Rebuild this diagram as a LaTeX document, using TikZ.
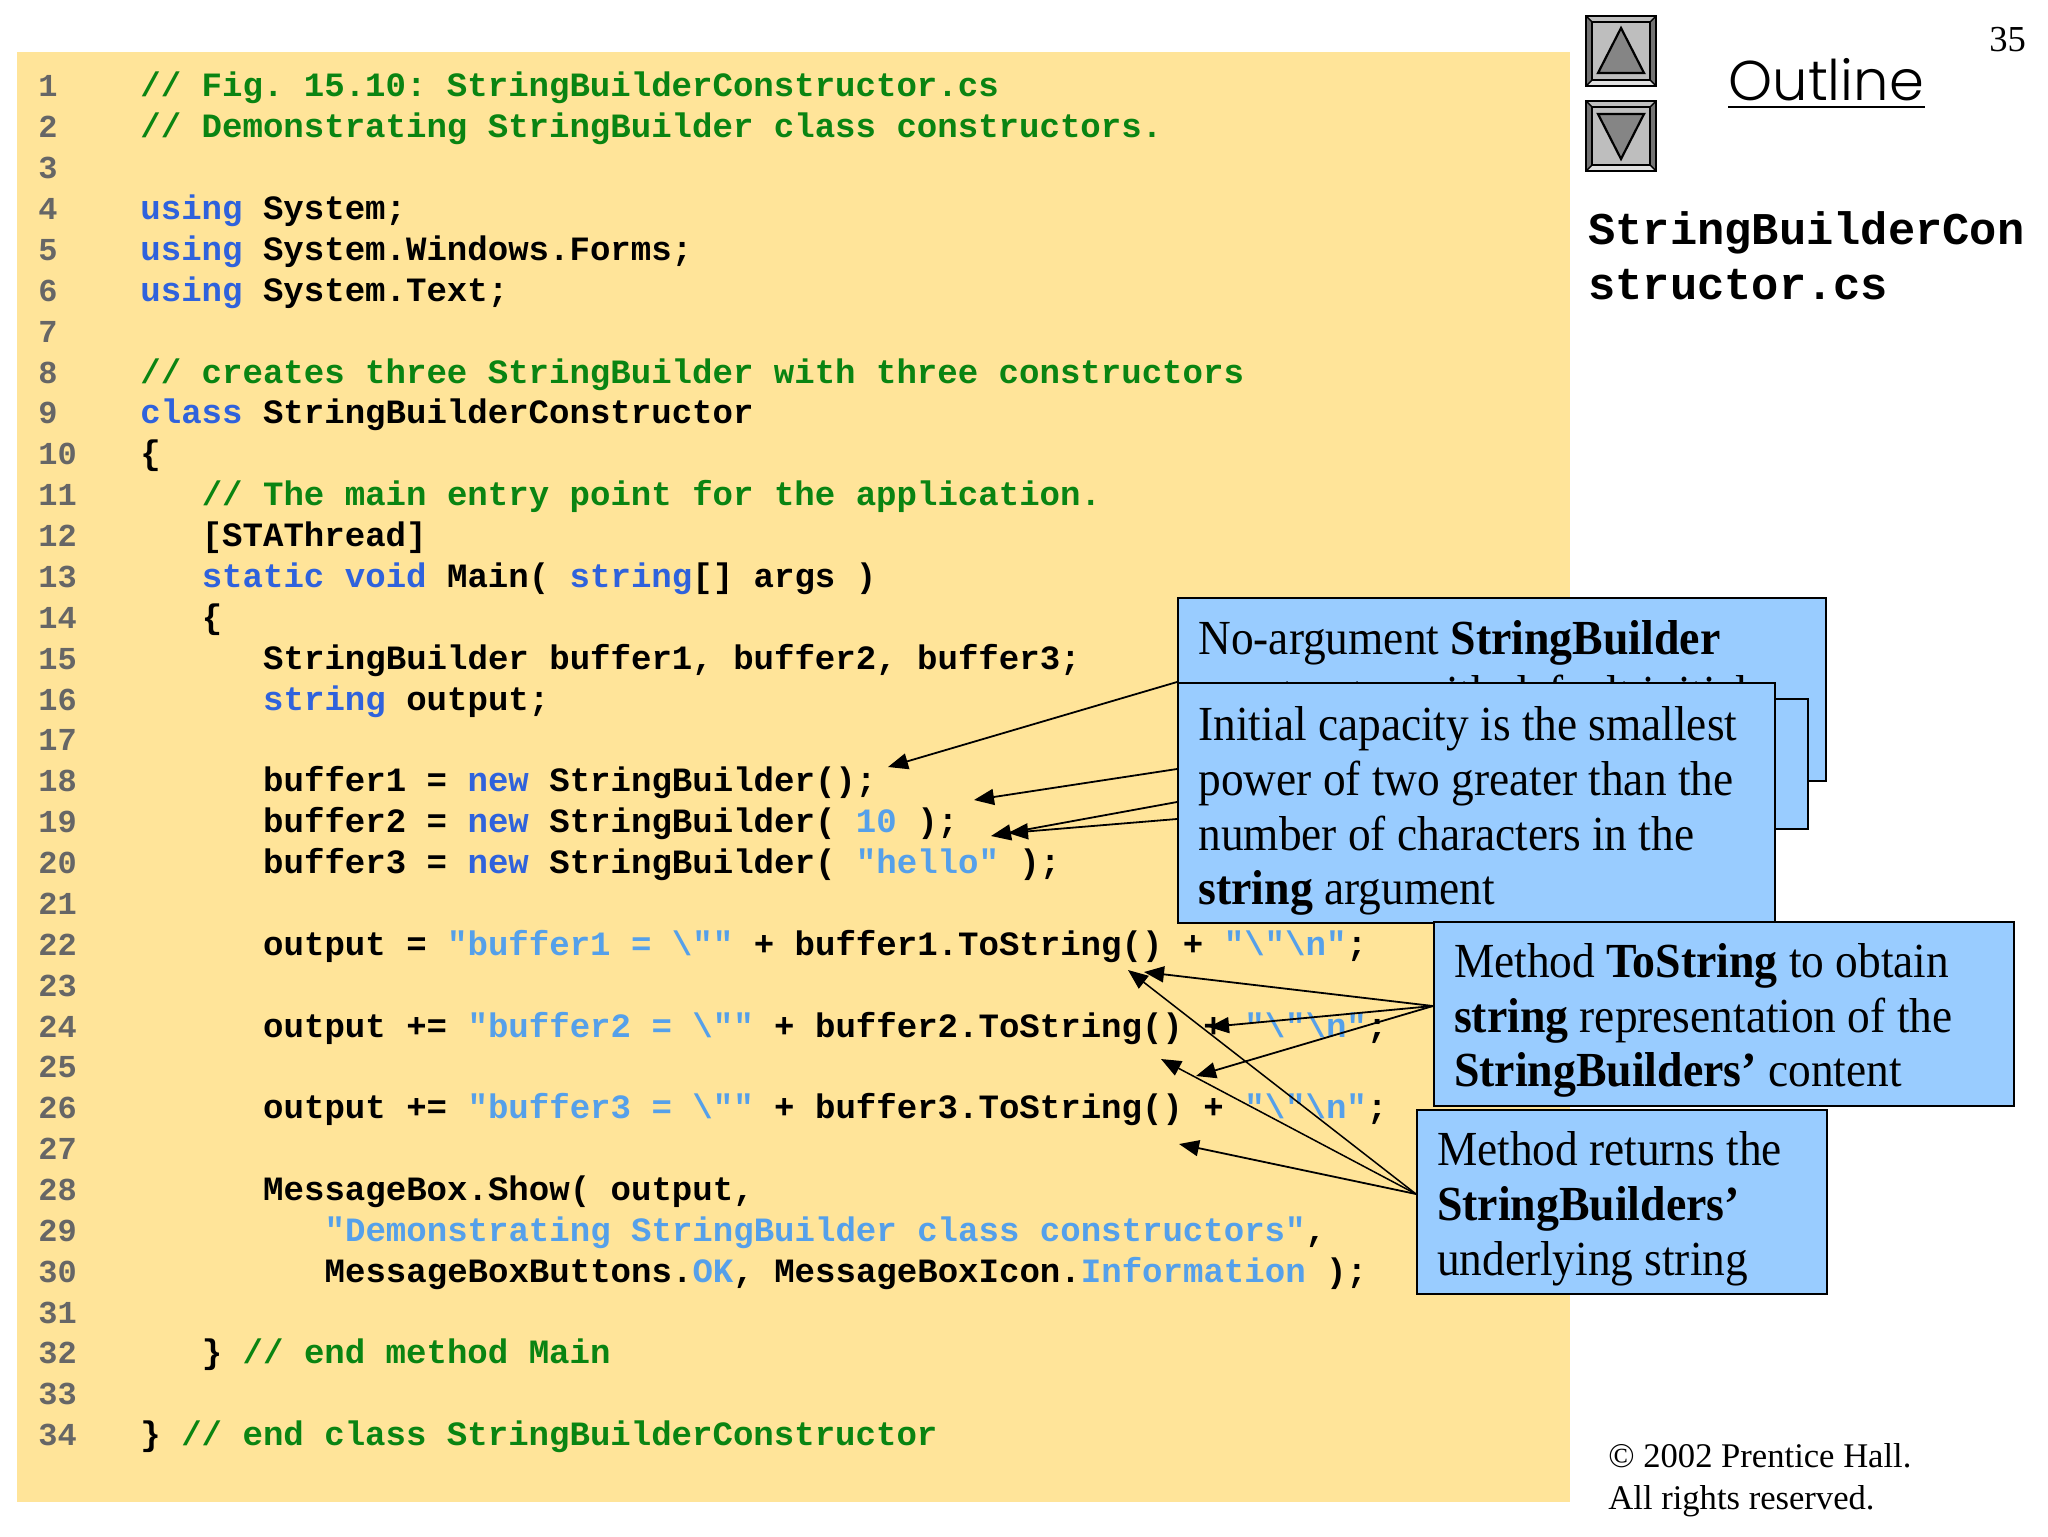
\documentclass[tikz,border=0pt]{standalone}
\usepackage{fontspec}
\setmainfont{Liberation Serif}
\setmonofont{Liberation Mono}
\newfontfamily\outlinefont{Poppins}[UprightFont=* Light]
\newfontfamily\calloutfont{Liberation Serif}[UprightFeatures={FakeStretch=0.925},BoldFeatures={FakeStretch=0.935}]
\usetikzlibrary{arrows.meta}
\definecolor{pagebg}{HTML}{FFE499}
\definecolor{callout}{HTML}{99CCFF}
\definecolor{cmtgreen}{HTML}{0A8412}
\definecolor{kwblue}{HTML}{2F62DC}
\definecolor{strblue}{HTML}{55A0EA}
\definecolor{numgray}{HTML}{666666}
\definecolor{btnface}{HTML}{BEBEBE}
\definecolor{btnarrow}{HTML}{858585}
\newcommand{\Cm}[1]{\textcolor{cmtgreen}{#1}}
\newcommand{\Kw}[1]{\textcolor{kwblue}{#1}}
\newcommand{\Str}[1]{\textcolor{strblue}{#1}}
\newcommand{\bs}{\textbackslash}
\newcommand{\codeline}[3]{\node[codetext] (c#1) at ({140+#2*20.47},{97+(#1-1)*40.87}) {#3};}
\newcommand{\updown}[3]{%
  \fill[btnface] (#1,#2) rectangle +(70,70);
  \fill[black!25] (#1,#2) -- +(70,0) -- +(64,6) -- +(6,6) -- cycle;
  \fill[black!55] (#1,#2) -- +(0,70) -- +(6,64) -- +(6,6) -- cycle;
  \fill[black!55] (#1+70,#2) -- +(0,70) -- +(-6,64) -- +(-6,6) -- cycle;
  \fill[black!12] (#1,#2+70) -- +(70,0) -- +(64,-6) -- +(6,-6) -- cycle;
  \draw[black, line width=1pt] (#1,#2) rectangle +(70,70);
  \draw[black, line width=1pt] (#1+6,#2+6) rectangle +(58,58);
  \draw[black, line width=0.7pt] (#1,#2) -- +(6,6) (#1+70,#2) -- +(-6,6) (#1,#2+70) -- +(6,-6) (#1+70,#2+70) -- +(-6,-6);
  \draw[black, fill=btnarrow, line width=1.1pt, line join=miter] #3;
}
\tikzset{
  x=0.5pt, y=-0.5pt,
  codetext/.style={anchor=base west, inner sep=0pt, font=\fontsize{17.03}{20}\selectfont\ttfamily\bfseries},
  lnum/.style={codetext, text=numgray, font=\fontsize{16}{20}\selectfont\ttfamily\bfseries},
  calltext/.style={font=\fontsize{24.5}{27.4}\calloutfont},
  box/.style={draw=black, line width=1pt, fill=callout, anchor=north west, inner xsep=10pt, inner ysep=0pt,
     align=flush left, calltext},
  conn/.style={draw=black, line width=0.9pt, -{Triangle[length=10pt,width=8pt]}},
  plain/.style={inner sep=0pt, anchor=base west},
}
\begin{document}
\begin{tikzpicture}
\useasboundingbox (0,0) rectangle (2048,1536);
\fill[white] (0,0) rectangle (2048,1536);
\fill[pagebg] (17,52) rectangle (1570,1502);
\foreach \n in {1,...,34} \node[lnum] (num\n) at (38,{97+(\n-1)*40.87}) {\n};
\codeline{1}{0}{\Cm{// Fig. 15.10: StringBuilderConstructor.cs}}
\codeline{2}{0}{\Cm{// Demonstrating StringBuilder class constructors.}}
\codeline{4}{0}{\Kw{using} System;}
\codeline{5}{0}{\Kw{using} System.Windows.Forms;}
\codeline{6}{0}{\Kw{using} System.Text;}
\codeline{8}{0}{\Cm{// creates three StringBuilder with three constructors}}
\codeline{9}{0}{\Kw{class} StringBuilderConstructor}
\codeline{10}{0}{\{}
\codeline{11}{3}{\Cm{// The main entry point for the application.}}
\codeline{12}{3}{[STAThread]}
\codeline{13}{3}{\Kw{static} \Kw{void} Main( \Kw{string}[] args )}
\codeline{14}{3}{\{}
\codeline{15}{6}{StringBuilder buffer1, buffer2, buffer3;}
\codeline{16}{6}{\Kw{string} output;}
\codeline{18}{6}{buffer1 = \Kw{new} StringBuilder();}
\codeline{19}{6}{buffer2 = \Kw{new} StringBuilder( \Str{10} );}
\codeline{20}{6}{buffer3 = \Kw{new} StringBuilder( \Str{"hello"} );}
\codeline{22}{6}{output = \Str{"buffer1 = \bs""} + buffer1.ToString() + \Str{"\bs"\bs n"};}
\codeline{24}{6}{output += \Str{"buffer2 = \bs""} + buffer2.ToString() + \Str{"\bs"\bs n"};}
\codeline{26}{6}{output += \Str{"buffer3 = \bs""} + buffer3.ToString() + \Str{"\bs"\bs n"};}
\codeline{28}{6}{MessageBox.Show( output,}
\codeline{29}{9}{\Str{"Demonstrating StringBuilder class constructors"},}
\codeline{30}{9}{MessageBoxButtons.\Str{OK}, MessageBoxIcon.\Str{Information} );}
\codeline{32}{3}{\} \Cm{// end method Main}}
\codeline{34}{0}{\} \Cm{// end class StringBuilderConstructor}}
% arrow targets
\coordinate (t1) at (888,767);
\coordinate (t2) at (974,800);
\coordinate (t3) at (991,836);
\coordinate (t3b) at (1008,833);
\coordinate (t4) at (1144,972);
\coordinate (t5) at (1209,1027);
\coordinate (t6) at (1196,1076);
\coordinate (t7) at (1128,970);
\coordinate (t8) at (1161,1059);
\coordinate (t9) at (1179,1144);
\coordinate (s2) at (0,769);
\coordinate (s3) at (0,802);
\coordinate (s3b) at (0,819);
% callouts, back to front
\node[box, minimum width=324pt, minimum height=91.5pt] (b1) at (1177,597) {};
\node[plain, calltext] (b1a) at (1198,654) {No-argument \textbf{StringBuilder}};
\node[plain, calltext] (b1b) at (1198,709) {constructor with default initial};
\node[box, minimum width=315.2pt, minimum height=65pt] (b2) at (1177,698) {};
\node[box, minimum width=298.5pt, minimum height=120pt, text width=278pt] (b3) at (1177,682) {\mbox{\rule{0pt}{25pt}Initial capacity is the smallest}\\\mbox{power of two greater than the}\\\mbox{number of characters in the}\\\mbox{\textbf{string} argument}};
\draw[conn] (b3.north west) -- (t1);
\draw[conn] (b3.west |- s2) -- (t2);
\draw[conn] (b3.west |- s3) -- (t3);
\draw[conn] (b3.west |- s3b) -- (t3b);
\node[box, minimum width=290pt, minimum height=92pt, text width=270pt] (b4) at (1433,921) {\mbox{\rule{0pt}{23.5pt}Method \textbf{ToString} to obtain}\\\mbox{\textbf{string} representation of the}\\\mbox{\textbf{StringBuilders’} content}};
\node[box, minimum width=205pt, minimum height=92pt, text width=185pt] (b5) at (1416,1109) {\mbox{\rule{0pt}{23.5pt}Method returns the}\\\mbox{\textbf{StringBuilders’}}\\\mbox{underlying string}};
\draw[conn] ([yshift=4pt]b4.west) -- (t4);
\draw[conn] ([yshift=4pt]b4.west) -- (t5);
\draw[conn] ([yshift=4pt]b4.west) -- (t6);
\draw[conn, line width=0.75pt] ([yshift=4pt]b5.west) -- (t7);
\draw[conn, line width=0.75pt] ([yshift=4pt]b5.west) -- (t8);
\draw[conn] ([yshift=4pt]b5.west) -- (t9);
% outline panel
\updown{1586}{16}{(1621,28) -- (1644,73) -- (1598,73) -- cycle}
\updown{1586}{101}{(1598,114) -- (1644,114) -- (1621,159) -- cycle}
\node[plain, font=\fontsize{28}{32}\outlinefont] (outl) at (1728,101) {Outline};
\draw[line width=1.3pt] (1728,107) -- (1925,107);
\node[plain, font=\fontsize{22.7}{27}\selectfont\ttfamily\bfseries] (fn1) at (1588,244) {StringBuilderCon};
\node[plain, font=\fontsize{22.7}{27}\selectfont\ttfamily\bfseries] (fn2) at (1588,299) {structor.cs};
\node[plain, font=\fontsize{18.3}{22}\selectfont] (pg) at (1989,52) {35};
\node[plain, font=\fontsize{17.3}{21}\selectfont] (cr1) at (1608,1467) {© 2002 Prentice Hall.};
\node[plain, font=\fontsize{17.3}{21}\selectfont] (cr2) at (1608,1509) {All rights reserved.};
\end{tikzpicture}
\end{document}
